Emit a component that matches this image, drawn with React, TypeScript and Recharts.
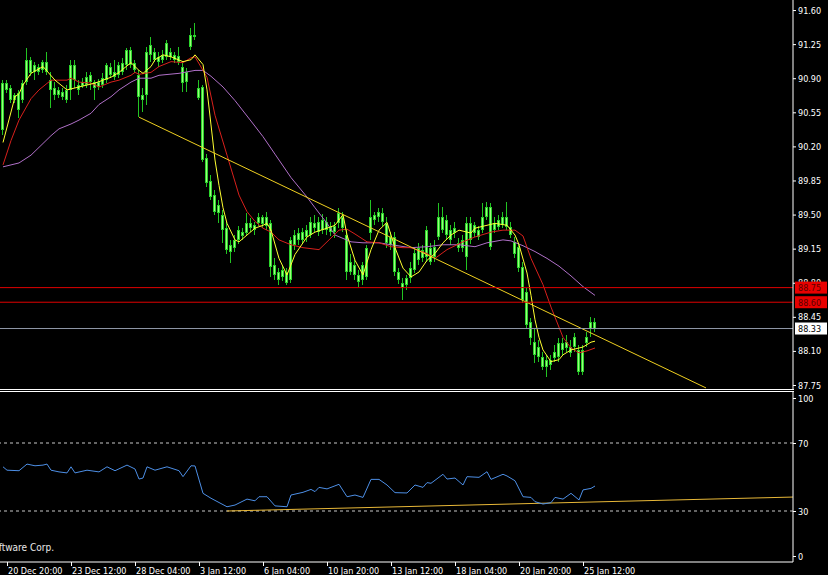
import { ComposedChart, Bar, Line, XAxis, YAxis, ReferenceLine } from "recharts";

const FONT = "'DejaVu Sans Condensed', 'Liberation Sans', sans-serif";
const FS = 9;
const PLOT_W = 793;
const MAIN_H = 389;
const RSI_TOP = 392;
const RSI_PLOT_H = 170;

// H4 candles, one per bar
const opens = [
  90.37, 90.85, 90.80, 90.68, 90.75, 90.68, 90.86, 91.09, 90.96, 91.02,
  90.98, 91.07, 90.88, 90.80, 90.73, 90.76, 90.68, 90.78, 91.04, 90.83,
  90.82, 90.83, 90.93, 90.86, 90.81, 90.83, 90.88, 91.02, 90.91, 90.93,
  91.06, 91.04, 91.19, 91.06, 90.93, 90.68, 90.73, 91.14, 91.17, 91.12,
  91.09, 91.12, 91.17, 91.14, 91.07, 91.02, 90.86, 91.22, 91.34, 90.80,
  90.81, 90.08, 89.84, 89.70, 89.52, 89.50, 89.36, 89.19, 89.16, 89.24,
  89.32, 89.31, 89.41, 89.39, 89.41, 89.47, 89.38, 89.41, 88.98, 88.91,
  88.86, 88.91, 88.83, 89.19, 89.31, 89.24, 89.27, 89.29, 89.41, 89.32,
  89.34, 89.42, 89.37, 89.32, 89.41, 89.47, 89.29, 88.91, 88.98, 88.88,
  88.83, 88.86, 89.31, 89.44, 89.53, 89.52, 89.41, 89.19, 89.27, 88.91,
  88.80, 88.78, 88.85, 88.93, 89.03, 89.14, 89.06, 89.16, 89.06, 89.27,
  89.48, 89.44, 89.24, 89.36, 89.21, 89.16, 89.06, 89.41, 89.31, 89.34,
  89.34, 89.48, 89.58, 89.34, 89.37, 89.39, 89.47, 89.37, 89.22, 89.17,
  88.96, 88.70, 88.40, 88.19, 88.04, 88.04, 87.93, 88.01, 88.03, 88.04,
  88.18, 88.13, 88.14, 88.14, 88.11, 87.88, 88.18, 88.32, 88.40,
];
const highs = [
  90.88, 90.88, 90.83, 90.75, 90.78, 90.88, 91.21, 91.12, 91.07, 91.05,
  91.09, 91.17, 90.96, 90.86, 90.81, 90.80, 90.83, 91.09, 91.09, 90.88,
  90.90, 90.96, 90.96, 90.88, 90.89, 90.95, 91.06, 91.06, 91.09, 91.07,
  91.11, 91.21, 91.22, 91.09, 90.98, 90.80, 91.22, 91.32, 91.21, 91.17,
  91.19, 91.29, 91.21, 91.17, 91.22, 91.07, 91.00, 91.42, 91.47, 90.88,
  90.83, 90.12, 89.91, 89.75, 89.65, 89.55, 89.42, 89.24, 89.29, 89.38,
  89.36, 89.52, 89.46, 89.42, 89.52, 89.50, 89.53, 89.44, 89.05, 88.95,
  88.97, 88.95, 89.27, 89.34, 89.36, 89.36, 89.39, 89.47, 89.50, 89.47,
  89.51, 89.47, 89.42, 89.42, 89.57, 89.53, 89.34, 89.09, 89.03, 88.93,
  89.01, 89.19, 89.65, 89.53, 89.57, 89.57, 89.47, 89.32, 89.32, 88.95,
  88.85, 88.88, 89.01, 89.16, 89.21, 89.19, 89.38, 89.21, 89.24, 89.62,
  89.58, 89.50, 89.39, 89.42, 89.26, 89.29, 89.47, 89.47, 89.42, 89.38,
  89.62, 89.63, 89.62, 89.47, 89.50, 89.53, 89.63, 89.42, 89.27, 89.21,
  89.01, 88.75, 88.44, 88.32, 88.21, 88.09, 88.06, 88.06, 88.16, 88.23,
  88.23, 88.26, 88.21, 88.28, 88.16, 88.16, 88.29, 88.45, 88.44,
];
const lows = [
  90.32, 90.75, 90.65, 90.65, 90.49, 90.65, 90.83, 90.92, 90.88, 90.93,
  90.95, 90.93, 90.59, 90.68, 90.70, 90.68, 90.65, 90.68, 90.80, 90.73,
  90.80, 90.80, 90.78, 90.68, 90.78, 90.80, 90.85, 90.90, 90.88, 90.90,
  90.93, 90.98, 91.00, 90.95, 90.50, 90.55, 90.63, 91.07, 91.07, 91.02,
  91.06, 91.09, 91.09, 91.06, 91.04, 90.76, 90.76, 91.19, 91.29, 90.68,
  90.04, 89.78, 89.65, 89.50, 89.41, 89.21, 89.09, 89.00, 89.12, 89.20,
  89.24, 89.28, 89.32, 89.29, 89.38, 89.36, 89.34, 88.86, 88.83, 88.78,
  88.82, 88.78, 88.80, 89.14, 89.19, 89.20, 89.22, 89.26, 89.32, 89.28,
  89.30, 89.29, 89.28, 89.26, 89.36, 89.32, 88.83, 88.88, 88.83, 88.76,
  88.78, 88.83, 89.24, 89.39, 89.42, 89.38, 89.16, 89.14, 88.87, 88.79,
  88.62, 88.73, 88.80, 88.90, 88.98, 89.01, 89.01, 88.98, 89.01, 89.24,
  89.31, 89.24, 89.19, 89.26, 89.12, 89.12, 88.93, 89.20, 89.27, 89.24,
  89.31, 89.44, 89.14, 89.31, 89.34, 89.36, 89.34, 89.26, 89.05, 88.91,
  88.59, 88.32, 88.16, 87.98, 87.99, 87.90, 87.83, 87.90, 87.99, 87.99,
  88.06, 88.09, 88.04, 88.09, 87.85, 87.85, 88.14, 88.24, 88.29,
];
const closes = [
  90.85, 90.78, 90.68, 90.73, 90.57, 90.85, 91.09, 90.95, 91.04, 90.96,
  91.07, 90.96, 90.78, 90.73, 90.78, 90.71, 90.78, 91.04, 90.88, 90.78,
  90.86, 90.91, 90.86, 90.80, 90.86, 90.90, 91.04, 90.93, 90.96, 91.04,
  90.96, 91.19, 91.04, 90.98, 90.71, 90.73, 91.17, 91.24, 91.09, 91.07,
  91.14, 91.26, 91.12, 91.09, 91.13, 90.85, 90.96, 91.34, 91.32, 90.70,
  90.06, 89.82, 89.68, 89.53, 89.60, 89.34, 89.14, 89.12, 89.24, 89.34,
  89.28, 89.41, 89.36, 89.34, 89.48, 89.40, 89.47, 88.96, 88.88, 88.83,
  88.93, 88.80, 89.24, 89.29, 89.24, 89.32, 89.34, 89.42, 89.36, 89.42,
  89.44, 89.34, 89.32, 89.38, 89.52, 89.36, 88.91, 89.01, 88.88, 88.81,
  88.98, 89.16, 89.47, 89.50, 89.47, 89.42, 89.21, 89.27, 88.91, 88.83,
  88.75, 88.85, 88.95, 89.11, 89.16, 89.05, 89.34, 89.01, 89.17, 89.48,
  89.34, 89.29, 89.34, 89.31, 89.16, 89.24, 89.41, 89.24, 89.39, 89.27,
  89.48, 89.58, 89.17, 89.41, 89.44, 89.48, 89.37, 89.29, 89.09, 88.95,
  88.62, 88.37, 88.23, 88.06, 88.14, 87.94, 88.01, 87.96, 88.09, 88.18,
  88.11, 88.19, 88.08, 88.24, 87.88, 88.11, 88.24, 88.40, 88.33,
];

// moving averages: [bar, value]
const fastMA = [
  [0, 90.24], [3, 90.71], [4, 90.74], [5, 90.83], [7, 90.95], [10, 91.02], [13, 90.88],
  [16, 90.78], [18, 90.8], [20, 90.82], [23, 90.85], [27, 90.91], [29, 90.96], [32, 91.06],
  [34, 90.98], [35, 90.95], [37, 91.02], [38, 91.09], [40, 91.14], [42, 91.12], [45, 91.07],
  [47, 91.09], [48, 91.14], [50, 91.04], [51, 90.78], [52, 90.42], [53, 90.06], [54, 89.8],
  [55, 89.57], [56, 89.41], [58, 89.24], [59, 89.22], [61, 89.29], [63, 89.36], [65, 89.39],
  [66, 89.41], [67, 89.34], [69, 89.05], [71, 88.88], [73, 89.09], [76, 89.27], [78, 89.32],
  [81, 89.36], [83, 89.39], [85, 89.5], [86, 89.29], [88, 89.03], [90, 88.88], [92, 89.14],
  [94, 89.34], [96, 89.42], [98, 89.16], [100, 88.95], [102, 88.86], [104, 88.91], [106, 89.03],
  [108, 89.1], [110, 89.21], [112, 89.29], [114, 89.34], [117, 89.31], [118, 89.36], [121, 89.39],
  [123, 89.41], [126, 89.39], [128, 89.29], [129, 89.19], [131, 88.9], [132, 88.67], [133, 88.42],
  [134, 88.24], [135, 88.11], [137, 87.99], [139, 88.01], [140, 88.06], [142, 88.11], [144, 88.13],
  [145, 88.14], [147, 88.19], [148, 88.2],
];
const midMA = [
  [0, 90.01], [2, 90.26], [4, 90.47], [7, 90.69], [9, 90.78], [12, 90.88], [16, 90.88],
  [17, 90.9], [19, 90.86], [22, 90.85], [24, 90.81], [27, 90.86], [29, 90.88], [32, 90.93],
  [33, 90.96], [34, 90.94], [37, 90.96], [39, 91.02], [42, 91.07], [45, 91.06], [47, 91.11],
  [48, 91.12], [51, 90.91], [53, 90.52], [56, 90.11], [59, 89.7], [61, 89.53], [63, 89.43],
  [65, 89.36], [67, 89.32], [69, 89.24], [72, 89.19], [75, 89.16], [79, 89.14], [82, 89.26],
  [84, 89.34], [86, 89.35], [88, 89.3], [91, 89.22], [94, 89.21], [97, 89.17], [100, 89.16],
  [102, 89.16], [106, 89.1], [108, 89.05], [111, 89.14], [115, 89.22], [118, 89.27], [122, 89.32],
  [125, 89.34], [128, 89.34], [130, 89.28], [132, 89.05], [135, 88.78], [137, 88.55], [140, 88.24],
  [142, 88.13], [144, 88.08], [146, 88.1], [148, 88.13],
];
const slowMA = [
  [0, 89.99], [4, 90.03], [7, 90.11], [9, 90.19], [12, 90.31], [14, 90.38], [17, 90.43],
  [19, 90.47], [22, 90.54], [24, 90.63], [27, 90.71], [29, 90.78], [32, 90.86], [34, 90.9],
  [37, 90.9], [39, 90.93], [44, 90.95], [48, 90.98], [50, 90.98], [52, 90.92], [55, 90.81],
  [58, 90.67], [62, 90.46], [65, 90.3], [68, 90.12], [72, 89.88], [76, 89.68], [78, 89.57],
  [81, 89.41], [83, 89.29], [87, 89.22], [90, 89.21], [94, 89.21], [97, 89.19], [102, 89.16],
  [106, 89.17], [110, 89.19], [114, 89.19], [118, 89.17], [121, 89.21], [125, 89.24], [127, 89.23],
  [130, 89.18], [133, 89.12], [136, 89.05], [139, 88.97], [142, 88.87], [145, 88.76], [148, 88.67],
];
const rsiPts = [
  [0, 56], [1, 54], [4, 53.7], [6, 57.6], [8, 56.6], [10, 57], [11, 57.6], [12, 54], [14, 53],
  [16, 52.4], [17, 56], [18, 52.4], [21, 54], [24, 53], [26, 56], [28, 53.7], [31, 57], [33, 54.7],
  [34, 48.8], [35, 49.4], [36, 56], [38, 54], [41, 56], [44, 53.7], [45, 50.2], [47, 56.6],
  [48, 56.5], [50, 40.4], [52, 37.5], [56, 32.5], [58, 33.5], [61, 37], [63, 36], [64, 38.4],
  [66, 38.4], [68, 33], [71, 32.5], [72, 39.4], [75, 41], [77, 42.7], [78, 41.4], [79, 43.9],
  [81, 43], [84, 45.7], [86, 38.4], [88, 39.4], [90, 38], [92, 48.6], [94, 48.6], [96, 45.3],
  [98, 40.8], [101, 40.6], [103, 45.3], [105, 43.9], [106, 46.7], [107, 46.3], [110, 51.6],
  [111, 48.8], [113, 49.4], [115, 45.3], [116, 50.2], [119, 49.8], [121, 53.1], [122, 48.6],
  [125, 51.6], [126, 50.6], [128, 47.8], [130, 38.4], [132, 38], [133, 35.5], [135, 34.1],
  [137, 34.9], [138, 38], [140, 37], [142, 40.4], [144, 36.5], [145, 42.4], [147, 43.3], [148, 44.7],
];

const priceTicks = [91.6, 91.25, 90.9, 90.55, 90.2, 89.85, 89.5, 89.15, 88.8, 88.45, 88.1, 87.75];
const rsiTicks = [0, 30, 70, 100];
const timeTickBars = [1, 17, 33, 49, 65, 81, 97, 113, 129, 145];
const timeLabels = [
  "20 Dec 20:00", "23 Dec 12:00", "28 Dec 04:00", "3 Jan 12:00", "6 Jan 04:00",
  "10 Jan 20:00", "13 Jan 12:00", "18 Jan 04:00", "20 Jan 20:00", "25 Jan 12:00",
];
const redLevels = [88.75, 88.6];
const bidPrice = 88.33;
const trendLine = [[34, 90.5], [175.75, 87.72]];
const rsiTrend = [[56, 30], [197.5, 38.2]];

const X_DOMAIN = [-0.75, 197.5];
const Y_DOMAIN = [87.709, 91.703];

const rows: any[] = closes.map((c, i) => ({
  i,
  open: opens[i],
  high: highs[i],
  low: lows[i],
  close: c,
  range: [lows[i], highs[i]],
}));
fastMA.forEach(([i, v]) => (rows[i].fast = v));
midMA.forEach(([i, v]) => (rows[i].mid = v));
slowMA.forEach(([i, v]) => (rows[i].slow = v));
rsiPts.forEach(([i, v]) => (rows[i].rsi = v));

const Candle = (props: any) => {
  const { x, y, width, height, payload } = props;
  if (!payload || x == null) return null;
  const top = Math.min(y, y + height);
  const h = Math.abs(height);
  const span = payload.high - payload.low || 1;
  const toY = (p: number) => top + ((payload.high - p) / span) * h;
  const cx = Math.floor(x + width / 2);
  const b1 = Math.min(toY(payload.open), toY(payload.close));
  const b2 = Math.max(toY(payload.open), toY(payload.close));
  return (
    <g shapeRendering="crispEdges">
      <rect x={cx} y={top} width={1} height={Math.max(1, h)} fill="#22c422" />
      <rect x={cx - 1} y={b1} width={3} height={Math.max(1, b2 - b1)} fill="#2bd42b" />
      <rect x={cx} y={b1 + 1} width={1} height={Math.max(0, b2 - b1 - 2)} fill="#9cff7c" />
    </g>
  );
};

// price scale ticks; level values come last so their boxes sit on top
const PriceTick = ({ y, payload }: any) => {
  const v = payload.value;
  if (v === bidPrice || redLevels.includes(v)) {
    const bid = v === bidPrice;
    return (
      <g>
        <rect x={PLOT_W + 2} y={y - 6} width={32} height={12} fill={bid ? "#fff" : "#e80000"} />
        <text x={PLOT_W + 5} y={y} dy={3.5} fill={bid ? "#000" : "#5a0000"} fontSize={FS} fontFamily={FONT}>
          {v.toFixed(2)}
        </text>
      </g>
    );
  }
  return (
    <g>
      <line x1={PLOT_W} x2={PLOT_W + 3} y1={y + 0.5} y2={y + 0.5} stroke="#fff" />
      <text x={PLOT_W + 5} y={y} dy={3.5} fill="#fff" fontSize={FS} fontFamily={FONT}>
        {v.toFixed(2)}
      </text>
    </g>
  );
};

const RsiTick = ({ y, payload }: any) => {
  const ty = Math.min(Math.max(y, 6), RSI_PLOT_H - 6);
  return (
    <g>
      <line x1={PLOT_W} x2={PLOT_W + 3} y1={ty + 0.5} y2={ty + 0.5} stroke="#fff" />
      <text x={PLOT_W + 5} y={ty} dy={3.5} fill="#fff" fontSize={FS} fontFamily={FONT}>
        {payload.value}
      </text>
    </g>
  );
};

const TimeTick = ({ x, payload }: any) => {
  const k = timeTickBars.indexOf(payload.value);
  return (
    <g>
      <line x1={x + 0.5} x2={x + 0.5} y1={RSI_PLOT_H} y2={RSI_PLOT_H + 4} stroke="#fff" />
      <text x={x + 1} y={RSI_PLOT_H + 12} fill="#fff" fontSize={FS} fontFamily={FONT}>
        {timeLabels[k]}
      </text>
    </g>
  );
};

export default function App() {
  return (
    <div
      style={{
        position: "relative",
        width: 828,
        height: 575,
        background: "#000",
        overflow: "hidden",
        fontFamily: FONT,
      }}
    >
      <style>{`body{margin:0;background:#000}`}</style>

      {/* price window */}
      <div style={{ position: "absolute", left: 0, top: 0 }}>
        <ComposedChart
          width={828}
          height={MAIN_H}
          data={rows}
          margin={{ top: 0, right: 0, bottom: 0, left: 0 }}
        >
          <XAxis dataKey="i" type="number" domain={X_DOMAIN} allowDataOverflow hide />
          <YAxis
            orientation="right"
            width={35}
            domain={Y_DOMAIN}
            allowDataOverflow
            ticks={[...priceTicks, ...redLevels, bidPrice]}
            interval={0}
            axisLine={{ stroke: "#fff" }}
            tickLine={false}
            tick={<PriceTick />}
          />
          <Bar dataKey="range" barSize={3} shape={<Candle />} isAnimationActive={false} />
          <Line dataKey="slow" stroke="#b070c8" dot={false} activeDot={false} connectNulls isAnimationActive={false} strokeWidth={1} />
          <Line dataKey="mid" stroke="#d8201c" dot={false} activeDot={false} connectNulls isAnimationActive={false} strokeWidth={1} />
          <Line dataKey="fast" stroke="#ffff30" dot={false} activeDot={false} connectNulls isAnimationActive={false} strokeWidth={1} />
          <ReferenceLine
            segment={trendLine.map(([x, y]) => ({ x, y }))}
            stroke="#f0d020"
            strokeWidth={1}
          />
          {redLevels.map((v) => (
            <ReferenceLine key={v} y={v} stroke="#e00000" strokeWidth={1} />
          ))}
          <ReferenceLine y={bidPrice} stroke="#9098a8" strokeWidth={1} />
        </ComposedChart>
      </div>

      {/* window separators */}
      <div style={{ position: "absolute", left: 0, top: MAIN_H, width: PLOT_W + 1, height: 1, background: "#fff" }} />
      <div style={{ position: "absolute", left: 0, top: RSI_TOP - 1, width: PLOT_W + 1, height: 1, background: "#fff" }} />

      {/* RSI window */}
      <div style={{ position: "absolute", left: 0, top: RSI_TOP }}>
        <ComposedChart
          width={828}
          height={575 - RSI_TOP}
          data={rows}
          margin={{ top: 0, right: 0, bottom: 0, left: 0 }}
        >
          <XAxis
            dataKey="i"
            type="number"
            domain={X_DOMAIN}
            allowDataOverflow
            ticks={timeTickBars}
            interval={0}
            height={575 - RSI_TOP - RSI_PLOT_H}
            axisLine={{ stroke: "#fff" }}
            tickLine={false}
            tick={<TimeTick />}
          />
          <YAxis
            orientation="right"
            width={35}
            domain={[0, 100]}
            ticks={rsiTicks}
            interval={0}
            axisLine={{ stroke: "#fff" }}
            tickLine={false}
            tick={<RsiTick />}
          />
          <ReferenceLine y={70} stroke="#c8c8c8" strokeDasharray="3 3" />
          <ReferenceLine y={30} stroke="#c8c8c8" strokeDasharray="3 3" />
          <ReferenceLine segment={rsiTrend.map(([x, y]) => ({ x, y }))} stroke="#e8b838" />
          <Line dataKey="rsi" stroke="#4d8fe6" dot={false} activeDot={false} connectNulls isAnimationActive={false} strokeWidth={1} />
        </ComposedChart>
      </div>

      <div
        style={{
          position: "absolute",
          right: 828 - 54,
          top: 542,
          color: "#e8e8e8",
          fontSize: 10,
          whiteSpace: "nowrap",
        }}
      >
        © 2001-2010 MetaQuotes Software Corp.
      </div>
    </div>
  );
}
